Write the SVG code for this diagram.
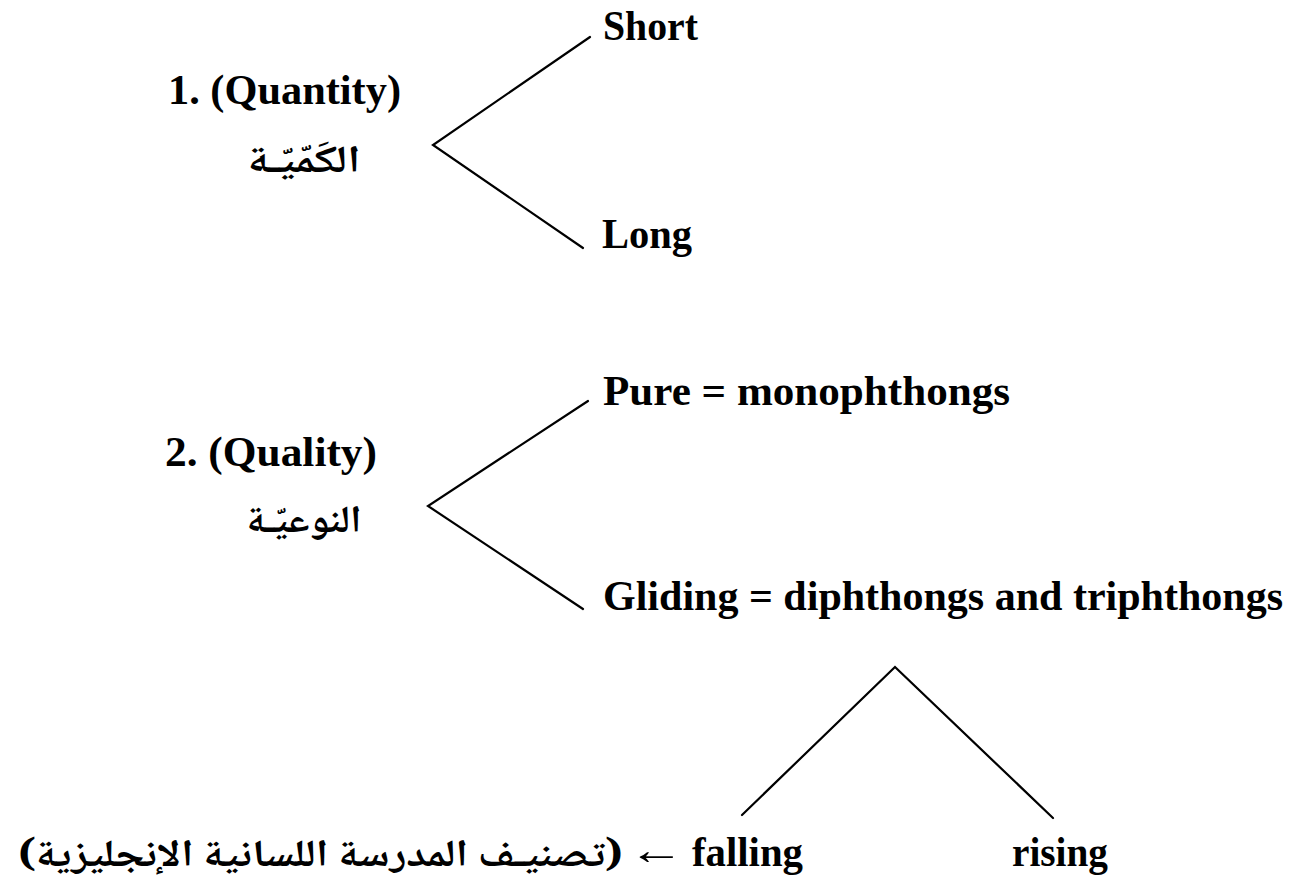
<svg xmlns="http://www.w3.org/2000/svg" width="1296" height="894" viewBox="0 0 1296 894">
<style>
.en{font-family:"Liberation Serif","Times New Roman",serif;font-weight:bold;font-size:42px;fill:#000}
.ar{font-family:"Noto Naskh Arabic","Noto Sans Arabic","DejaVu Sans",serif;font-weight:bold;font-size:38px;fill:#000}
.ln{stroke:#000;stroke-width:2.2;fill:none;stroke-linecap:round;stroke-linejoin:miter}
</style>
<rect width="1296" height="894" fill="#fff"/>
<g id="quantity">
<text class="en" x="168" y="104" textLength="233" lengthAdjust="spacingAndGlyphs">1. (Quantity)</text>
<text class="ar" x="304" y="172" text-anchor="middle" direction="rtl" textLength="113" lengthAdjust="spacingAndGlyphs">الكَمّيّـة</text>
</g>
<g id="short"><text class="en" x="603" y="40" textLength="95" lengthAdjust="spacingAndGlyphs">Short</text></g>
<g id="long"><text class="en" x="602" y="248" textLength="90" lengthAdjust="spacingAndGlyphs">Long</text></g>
<g id="quality">
<text class="en" x="165" y="466" textLength="212" lengthAdjust="spacingAndGlyphs">2. (Quality)</text>
<text class="ar" x="304" y="532" text-anchor="middle" direction="rtl" textLength="115" lengthAdjust="spacingAndGlyphs">النوعيّـة</text>
</g>
<g id="pure"><text class="en" x="603" y="405" textLength="407" lengthAdjust="spacingAndGlyphs">Pure = monophthongs</text></g>
<g id="gliding"><text class="en" x="603" y="610" textLength="680" lengthAdjust="spacingAndGlyphs">Gliding = diphthongs and triphthongs</text></g>
<g id="falling">
<text class="en" x="692" y="866" textLength="111" lengthAdjust="spacingAndGlyphs">falling</text>
<text class="en" x="628" y="864" textLength="56" lengthAdjust="spacingAndGlyphs">←</text>
<text class="ar" x="623" y="866" text-anchor="start" direction="rtl" textLength="605" lengthAdjust="spacingAndGlyphs">(تصنيـف المدرسة اللسانية الإنجليزية)</text>
</g>
<g id="rising"><text class="en" x="1012" y="866" textLength="96" lengthAdjust="spacingAndGlyphs">rising</text></g>
<g id="connectors">
<polyline class="ln" points="590,37 433,145 583,248"/>
<polyline class="ln" points="588,401 428,506 583,609"/>
<polyline class="ln" points="742,815 895,667 1053,818"/>
</g>
</svg>
